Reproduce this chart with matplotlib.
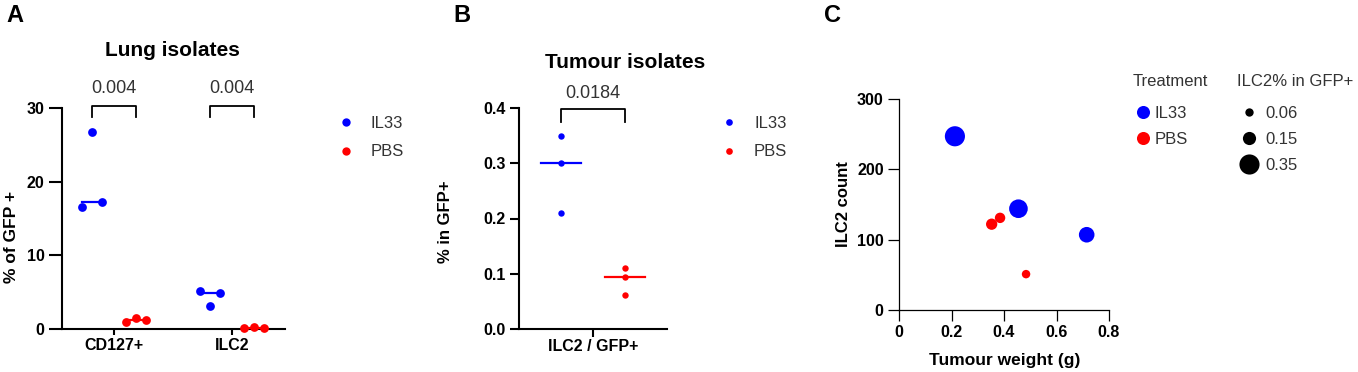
import numpy as np
import matplotlib
matplotlib.use("Agg")
import matplotlib.pyplot as plt
from matplotlib.lines import Line2D

plt.rcParams["font.family"] = ["Liberation Sans", "DejaVu Sans"]

W, H = 1358, 372
BLUE = "#0000FF"
RED = "#FF0000"
GREY = "#333333"

# ---- data ----
groups = ["IL33", "PBS"]

# A: lung isolates (points listed left / centre / right within each swarm)
lung_cats = ["CD127+", "ILC2"]
lung_il33 = [[16.6, 26.7, 17.2], [5.1, 3.1, 4.9]]
lung_pbs = [[0.9, 1.45, 1.25], [0.1, 0.25, 0.1]]
lung_p = ["0.004", "0.004"]

# B: tumour isolates
tum_cat = ["ILC2 / GFP+"]
tum_il33 = [0.35, 0.30, 0.21]
tum_pbs = [0.11, 0.094, 0.062]
tum_p = "0.0184"

# C: tumour weight vs ILC2 count, size = ILC2% in GFP+
c_weight_il33 = [0.213, 0.455, 0.715]
c_count_il33 = [247, 144, 107]
c_pct_il33 = [0.35, 0.30, 0.21]
c_weight_pbs = [0.353, 0.385, 0.484]
c_count_pbs = [122, 131, 51]
c_pct_pbs = [0.11, 0.094, 0.062]
size_levels = [0.06, 0.15, 0.35]


def fx(px):
    return px / W


def fy(py):
    return 1 - py / H


def size_of(v):
    return 600 * np.asarray(v)


fig = plt.figure(figsize=(W / 100, H / 100), dpi=100, facecolor="white")

# ================= Panel A =================
axa = fig.add_axes([fx(62), fy(329), (285 - 62) / W, (329 - 108) / H])
off, jit = 0.186, 0.085
for i, cat in enumerate(lung_cats):
    for vals, sign, col in ((lung_il33[i], -1, BLUE), (lung_pbs[i], 1, RED)):
        xc = i + sign * off
        xs = xc + np.array([-1, 0, 1]) * jit
        axa.plot([xc - jit, xc + jit], [np.median(vals)] * 2, color=col,
                 lw=1.6, zorder=3, clip_on=False)
        axa.plot(xs, vals, "o", color=col, ms=6.3, mew=0, zorder=4, clip_on=False)
    # bracket + p value
    bx = [i - off, i - off, i + off, i + off]
    axa.plot(bx, [28.8, 30.25, 30.25, 28.8], color="black", lw=1.3, clip_on=False)
    axa.text(i, 32.7, lung_p[i], ha="center", va="center", fontsize=13, color=GREY)

axa.set_xlim(-0.44, 1.449)
axa.set_ylim(0, 30)
axa.set_xticks(range(len(lung_cats)))
axa.set_xticklabels(lung_cats)
axa.set_yticks([0, 10, 20, 30])
for s in ("top", "right"):
    axa.spines[s].set_visible(False)
for s in ("left", "bottom"):
    axa.spines[s].set_linewidth(1.5)
axa.tick_params(axis="y", length=9.5, width=1.5, pad=3, labelsize=11.5)
axa.tick_params(axis="x", length=4.5, width=1.5, pad=2, labelsize=11.5)
for t in axa.get_xticklabels() + axa.get_yticklabels():
    t.set_fontweight("bold")
fig.text(fx(12), fy(237), "% of GFP +", rotation=90, ha="center", va="center",
         fontsize=12.5, fontweight="bold")
fig.text(fx(172), fy(50), "Lung isolates", ha="center", va="center",
         fontsize=15, fontweight="bold")

handles = [Line2D([], [], ls="", marker="o", color=c, ms=6, mew=0) for c in (BLUE, RED)]
leg = fig.legend(handles, groups, loc="center left",
                 bbox_to_anchor=(fx(341), fy(137.5)), frameon=False,
                 fontsize=12, handlelength=0.6, handletextpad=1.2,
                 labelspacing=0.83, borderpad=0, borderaxespad=0)
for t in leg.get_texts():
    t.set_color(GREY)

# ================= Panel B =================
axb = fig.add_axes([fx(519), fy(329), 148 / W, 221 / H])
offb, half = 0.216, 0.135
for vals, sign, col in ((tum_il33, -1, BLUE), (tum_pbs, 1, RED)):
    xc = sign * offb
    axb.plot([xc - half, xc + half], [np.median(vals)] * 2, color=col, lw=1.6, zorder=3)
    axb.plot([xc] * len(vals), vals, "o", color=col, ms=4.6, mew=0, zorder=4)
axb.plot([-offb, -offb, offb, offb], [0.375, 0.398, 0.398, 0.375], color="black",
         lw=1.3, clip_on=False)
axb.text(0, 0.427, tum_p, ha="center", va="center", fontsize=13, color=GREY)
axb.set_xlim(-0.5, 0.5)
axb.set_ylim(0, 0.4)
axb.set_xticks([0])
axb.set_xticklabels(tum_cat)
axb.set_yticks([0, 0.1, 0.2, 0.3, 0.4])
axb.set_yticklabels([f"{v:.1f}" for v in [0, 0.1, 0.2, 0.3, 0.4]])
for s in ("top", "right"):
    axb.spines[s].set_visible(False)
for s in ("left", "bottom"):
    axb.spines[s].set_linewidth(1.5)
axb.tick_params(axis="y", length=6.5, width=1.5, pad=3, labelsize=11.5)
axb.tick_params(axis="x", length=5.5, width=1.5, pad=2, labelsize=11.5)
for t in axb.get_xticklabels() + axb.get_yticklabels():
    t.set_fontweight("bold")
fig.text(fx(445), fy(222), "% in GFP+", rotation=90, ha="center", va="center",
         fontsize=12, fontweight="bold")
fig.text(fx(625), fy(62), "Tumour isolates", ha="center", va="center",
         fontsize=15, fontweight="bold")

handles = [Line2D([], [], ls="", marker="o", color=c, ms=4.8, mew=0) for c in (BLUE, RED)]
leg = fig.legend(handles, groups, loc="center left",
                 bbox_to_anchor=(fx(724), fy(137.5)), frameon=False,
                 fontsize=12, handlelength=0.6, handletextpad=1.2,
                 labelspacing=0.83, borderpad=0, borderaxespad=0)
for t in leg.get_texts():
    t.set_color(GREY)

# ================= Panel C =================
axc = fig.add_axes([fx(899), fy(310), 210 / W, 211 / H])
axc.scatter(c_weight_il33, c_count_il33, s=size_of(c_pct_il33), color=BLUE,
            lw=0, zorder=3)
axc.scatter(c_weight_pbs, c_count_pbs, s=size_of(c_pct_pbs), color=RED,
            lw=0, zorder=3)
axc.set_xlim(0, 0.8)
axc.set_ylim(0, 300)
axc.set_xticks([0, 0.2, 0.4, 0.6, 0.8])
axc.set_xticklabels(["0", "0.2", "0.4", "0.6", "0.8"])
axc.set_yticks([0, 100, 200, 300])
for s in ("top", "right"):
    axc.spines[s].set_visible(False)
for s in ("left", "bottom"):
    axc.spines[s].set_linewidth(0.9)
axc.tick_params(length=8, width=0.9, pad=3, labelsize=11.5)
for t in axc.get_xticklabels() + axc.get_yticklabels():
    t.set_fontweight("bold")
fig.text(fx(843), fy(204), "ILC2 count", rotation=90, ha="center", va="center",
         fontsize=12, fontweight="bold")
fig.text(fx(1005), fy(360), "Tumour weight (g)", ha="center", va="center",
         fontsize=12.5, fontweight="bold")

fig.text(fx(1170), fy(82), "Treatment", ha="center", va="center", fontsize=12, color=GREY)
fig.text(fx(1295), fy(82), "ILC2% in GFP+", ha="center", va="center", fontsize=12, color=GREY)
handles = [Line2D([], [], ls="", marker="o", color=c, ms=9.4, mew=0) for c in (BLUE, RED)]
leg = fig.legend(handles, groups, loc="upper left",
                 bbox_to_anchor=(fx(1136), fy(106)), frameon=False,
                 fontsize=12, handlelength=0.8, handletextpad=0.32,
                 labelspacing=0.66, borderpad=0, borderaxespad=0)
for t in leg.get_texts():
    t.set_color(GREY)
handles = [Line2D([], [], ls="", marker="o", color="black",
                  ms=float(np.sqrt(size_of(v))), mew=0) for v in size_levels]
leg = fig.legend(handles, [f"{v:.2f}" for v in size_levels], loc="upper left",
                 bbox_to_anchor=(fx(1239), fy(106)), frameon=False,
                 fontsize=12, handlelength=1.2, handletextpad=0.36,
                 labelspacing=0.66, borderpad=0, borderaxespad=0)
for t in leg.get_texts():
    t.set_color(GREY)

# panel letters
for letter, (px, py) in zip("ABC", [(15, 16), (462, 15), (832, 15)]):
    fig.text(fx(px), fy(py), letter, ha="center", va="center", fontsize=17,
             fontweight="bold")

fig.savefig("out.png", dpi=100, facecolor="white")
